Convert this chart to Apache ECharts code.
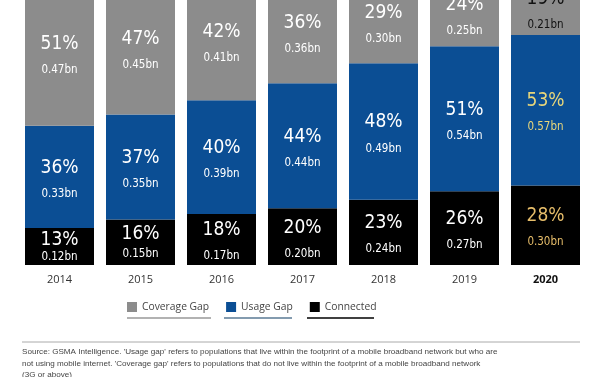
<!DOCTYPE html>
<html><head><meta charset="utf-8">
<script src="https://cdn.jsdelivr.net/npm/echarts@6/dist/echarts.min.js"></script>
<style>html,body{margin:0;padding:0;background:#fff}#c{width:600px;height:377px}</style>
</head><body><div id="c"></div>
<script>
const years = ['2014','2015','2016','2017','2018','2019','2020'];
const connectedPct = [13,16,18,20,23,26,28];
const usagePct = [36,37,40,44,48,51,53];
const coveragePct = [51,47,42,36,29,24,19];
const connectedBn = ['0.12','0.15','0.17','0.20','0.24','0.27','0.30'];
const usageBn = ['0.33','0.35','0.39','0.44','0.49','0.54','0.57'];
const coverageBn = ['0.47','0.45','0.41','0.36','0.30','0.25','0.21'];

const NF = "'DejaVu Sans Condensed',sans-serif";
function mk(name, color, pcts, bns, hiColor, hiBnColor){
  return {
    name, type:'bar', stack:'t', barWidth:69, itemStyle:{color},
    data: pcts.map((v,i)=>{
      const last = i===pcts.length-1;
      const lh = v<15 ? [19,15] : (v<17 ? [22,19] : [30,22]);
      return {value:v, label:{
        show:true, position:'inside', offset:[0, v<17 ? 1 : 2],
        formatter: '{p|'+v+'%}\n{b|'+bns[i]+'bn}',
        rich:{
          p:{fontFamily:NF,fontSize:19,lineHeight:lh[0],color:last?hiColor:'#fff'},
          b:{fontFamily:NF,fontSize:11.5,lineHeight:lh[1],color:last?hiBnColor:'#fff'}
        }
      }};
    })
  };
}
const chart = echarts.init(document.getElementById('c'));
chart.setOption({
  animation:false,
  grid:{left:19,right:14,top:-19,bottom:112,outerBoundsMode:'none',containLabel:false},
  xAxis:{type:'category',data:years,axisLine:{show:false},axisTick:{show:false},
    axisLabel:{margin:9,fontFamily:'Open Sans',fontSize:11,color:'#333',
      formatter:(v)=> v==='2020' ? '{bd|'+v+'}' : v,
      rich:{bd:{fontFamily:'Open Sans',fontSize:11,fontWeight:'bold',color:'#111'}}}},
  yAxis:{type:'value',min:0,max:100,show:false},
  legend:{top:302,left:127,itemWidth:10,itemHeight:10,itemGap:17,icon:'rect',padding:0,
    textStyle:{fontFamily:'Open Sans',fontSize:10.3,color:'#444'},
    data:['Coverage Gap','Usage Gap','Connected']},
  series:[
    mk('Connected','#000000',connectedPct,connectedBn,'#e6bd6a','#e6bd6a'),
    mk('Usage Gap','#0b4e94',usagePct,usageBn,'#e8d67a','#e8d67a'),
    mk('Coverage Gap','#8c8c8c',coveragePct,coverageBn,'#111','#111')
  ],
  graphic:[
    {type:'line',shape:{x1:127,y1:318,x2:211,y2:318},style:{stroke:'#999',lineWidth:1.5}},
    {type:'line',shape:{x1:224,y1:318,x2:292,y2:318},style:{stroke:'#5a7a95',lineWidth:1.5}},
    {type:'line',shape:{x1:307,y1:318,x2:374,y2:318},style:{stroke:'#000',lineWidth:1.5}},
    {type:'line',shape:{x1:22,y1:342,x2:580,y2:342},style:{stroke:'#aaa',lineWidth:1}},
    {type:'text',left:22,top:348,style:{text:"Source: GSMA Intelligence. 'Usage gap' refers to populations that live within the footprint of a mobile broadband network but who are",fontFamily:'Liberation Sans',fontSize:8.1,fill:'#444'}},
    {type:'text',left:22,top:360,style:{text:"not using mobile internet. 'Coverage gap' refers to populations that do not live within the footprint of a mobile broadband network",fontFamily:'Liberation Sans',fontSize:8.1,fill:'#444'}},
    {type:'text',left:22,top:371,style:{text:"(3G or above)",fontFamily:'Liberation Sans',fontSize:8.1,fill:'#444'}}
  ]
});
</script></body></html>
